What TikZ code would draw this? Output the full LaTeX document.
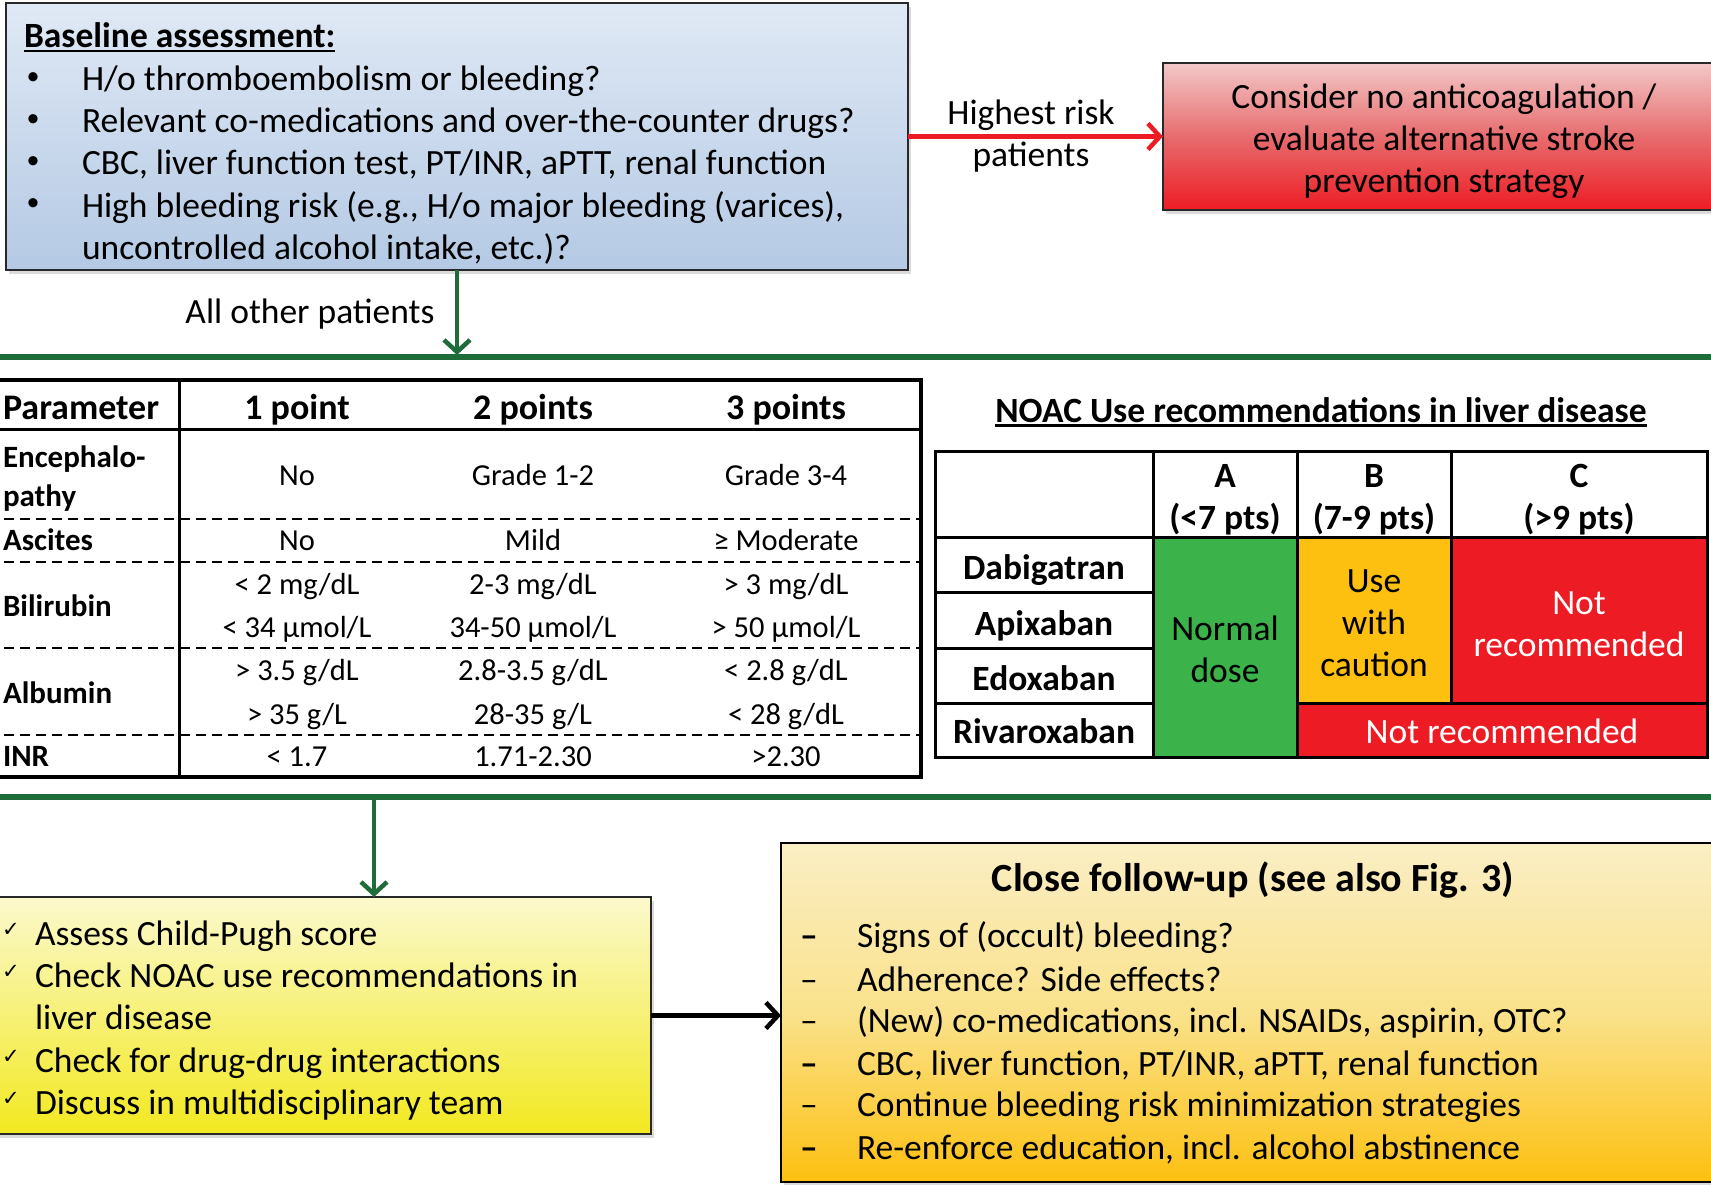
\documentclass[tikz,border=0pt]{standalone}
\usepackage{fontspec}
\setmainfont{Carlito}
\newfontfamily\dejavu{DejaVu Sans}
\usetikzlibrary{arrows.meta,shadows,calc}
\definecolor{bluetop}{RGB}{224,233,245}
\definecolor{bluebot}{RGB}{180,201,228}
\definecolor{redtop}{RGB}{243,200,200}
\definecolor{redmid}{RGB}{231,108,110}
\definecolor{redbot}{RGB}{237,28,36}
\definecolor{dkgreen}{RGB}{30,108,58}
\definecolor{cellgreen}{RGB}{59,179,74}
\definecolor{cellyellow}{RGB}{253,192,16}
\definecolor{cellred}{RGB}{237,28,36}
\definecolor{yeltop}{RGB}{251,249,205}
\definecolor{yelbot}{RGB}{242,233,32}
\definecolor{orgtop}{RGB}{250,238,196}
\definecolor{orgmid}{RGB}{250,226,140}
\definecolor{orgbot}{RGB}{253,192,16}
\definecolor{boxborder}{RGB}{40,40,40}
\begin{document}
\begin{tikzpicture}[x=1pt,y=-1pt,
  every node/.style={inner sep=0pt, outer sep=0pt},
  f35/.style={font=\fontsize{35.5}{42}\selectfont},
  f35b/.style={font=\fontsize{35.5}{42}\selectfont\bfseries},
  f36b/.style={font=\fontsize{36}{42}\selectfont\bfseries},
  f31b/.style={font=\fontsize{31}{44}\selectfont\bfseries},
  f30/.style={font=\fontsize{30.5}{43}\selectfont},
  f40b/.style={font=\fontsize{40}{48}\selectfont\bfseries},
  one/.style={text height=25pt, text depth=0pt},
  one30/.style={text height=19pt, text depth=0pt},
  boxshadow/.style={drop shadow={opacity=0.28, shadow xshift=3pt, shadow yshift=-4pt}},
  bigbox/.style={draw=boxborder, line width=1.8pt, boxshadow},
  gline/.style={draw=dkgreen, line width=6pt},
  tipstyle/.style={-{Straight Barb[length=12pt,width=26pt]}},
  garrow/.style={draw=dkgreen, line width=4.5pt, tipstyle},
  rarrow/.style={draw=cellred, line width=4.5pt, tipstyle},
  barrow/.style={draw=black, line width=4.5pt, tipstyle},
  tcell/.style={draw=black, line width=3pt},
  ctext/.style={align=center},
  dline/.style={draw=black, line width=2pt, dash pattern=on 10pt off 6pt},
  chk/.style={font=\dejavu\fontsize{21}{24}\selectfont},
  bul/.style={font=\fontsize{26}{30}\selectfont},
]
\clip (0,0) rectangle (1711,1185);
\fill[white] (0,0) rectangle (1711,1185);

% ---------- baseline box ----------
\node[bigbox, top color=bluetop, bottom color=bluebot, minimum width=902pt, minimum height=267pt] (base) at (457,136.5) {};
\node[f35b, one, anchor=west] (baset) at (24,35) {Baseline assessment:};
\draw[line width=2.5pt] ([yshift=-3.5pt]baset.south west) -- ([yshift=-3.5pt]baset.south east);
\node[bul] (bb1) at (33,79) {•};
\node[bul] (bb2) at (33,121) {•};
\node[bul] (bb3) at (33,163) {•};
\node[bul] (bb4) at (33,205) {•};
\node[f35, one, anchor=west] (bt1) at (82,78) {H/o thromboembolism or bleeding?};
\node[f35, one, anchor=west] (bt2) at (82,120) {Relevant co-medications and over-the-counter drugs?};
\node[f35, one, anchor=west] (bt3) at (82,162) {CBC, liver function test, PT/INR, aPTT, renal function};
\node[f35, one, anchor=west] (bt4) at (82,205) {High bleeding risk (e.g., H/o major bleeding (varices),};
\node[f35, one, anchor=west] (bt5) at (82,247) {uncontrolled alcohol intake, etc.)?};

% ---------- highest risk ----------
\node[bigbox, top color=redtop, bottom color=redbot, middle color=redmid, minimum width=562pt, minimum height=147pt] (risk) at (1444,136.5) {};
\node[f35, ctext] (riskt) at (1444,141) {Consider no anticoagulation /\\evaluate alternative stroke\\prevention strategy};
\draw[rarrow] (base.east) -- (risk.west);
\node[f35, ctext] (hr) at (1031,136.5) {Highest risk\\patients};

% ---------- green line 1 ----------
\coordinate (g1a) at (0,357);
\coordinate (g1b) at (1711,357);
\draw[gline] (g1a) -- (g1b);
\draw[garrow, shorten >=2pt] (base.south) -- (base.south |- g1a);
\node[f35, one] (aop) at (310,311) {All other patients};

% ---------- Child-Pugh table ----------
\node[draw=black, line width=4pt, minimum width=981pt, minimum height=397pt] (cp) at (430.5,578.5) {};
\draw[line width=3pt] (179,380) -- (179,777);
\draw[line width=3pt] (-60,429) -- (921,429);
\draw[dline] (-60,519) -- (921,519);
\draw[dline] (-60,562) -- (921,562);
\draw[dline] (-60,648) -- (921,648);
\draw[dline] (-60,735) -- (921,735);

\node[f36b, one, anchor=west] (hpar) at (3,407) {Parameter};
\node[f36b, one] (h1) at (297,407) {1 point};
\node[f36b, one] (h2) at (533,407) {2 points};
\node[f36b, one] (h3) at (786,407) {3 points};

\node[f31b, one30, anchor=west] (lenc1) at (3,458) {Encephalo-};
\node[f31b, one30, anchor=west] (lenc2) at (3,496.5) {pathy};
\node[f31b, one30, anchor=west] (lasc) at (3,541) {Ascites};
\node[f31b, one30, anchor=west] (lbil) at (3,607) {Bilirubin};
\node[f31b, one30, anchor=west] (lalb) at (3,694) {Albumin};
\node[f31b, one30, anchor=west] (linr) at (3,757) {INR};

\node[f30, one30] (v11) at (297,476) {No};
\node[f30, one30] (v12) at (533,476) {Grade 1-2};
\node[f30, one30] (v13) at (786,476) {Grade 3-4};
\node[f30, one30] (v21) at (297,541) {No};
\node[f30, one30] (v22) at (533,541) {Mild};
\node[f30, one30] (v23) at (786,541) {≥ Moderate};
\node[f30, one30] (v31) at (297,585) {< 2 mg/dL};
\node[f30, one30] (v32) at (533,585) {2-3 mg/dL};
\node[f30, one30] (v33) at (786,585) {> 3 mg/dL};
\node[f30, one30] (v34) at (297,628) {< 34 µmol/L};
\node[f30, one30] (v35) at (533,628) {34-50 µmol/L};
\node[f30, one30] (v36) at (786,628) {> 50 µmol/L};
\node[f30, one30] (v41) at (297,671) {> 3.5 g/dL};
\node[f30, one30] (v42) at (533,671) {2.8-3.5 g/dL};
\node[f30, one30] (v43) at (786,671) {< 2.8 g/dL};
\node[f30, one30] (v44) at (297,715) {> 35 g/L};
\node[f30, one30] (v45) at (533,715) {28-35 g/L};
\node[f30, one30] (v46) at (786,715) {< 28 g/dL};
\node[f30, one30] (v51) at (297,757) {< 1.7};
\node[f30, one30] (v52) at (533,757) {1.71-2.30};
\node[f30, one30] (v53) at (786,757) {>2.30};

% ---------- NOAC table ----------
\node[f35b, one] (noact) at (1321,410) {NOAC Use recommendations in liver disease};
\draw[line width=2.5pt] ([yshift=-3pt]noact.south west) -- ([yshift=-3pt]noact.south east);

\node[tcell, fill=white, minimum width=218pt, minimum height=86pt] (nh0) at (1044,494) {};
\node[tcell, fill=white, minimum width=144pt, minimum height=86pt] (nhA) at (1225,494) {};
\node[tcell, fill=white, minimum width=154pt, minimum height=86pt] (nhB) at (1374,494) {};
\node[tcell, fill=white, minimum width=256pt, minimum height=86pt] (nhC) at (1579,494) {};
\node[tcell, fill=white, minimum width=218pt, minimum height=55pt] (nd1) at (1044,564.5) {};
\node[tcell, fill=white, minimum width=218pt, minimum height=56pt] (nd2) at (1044,620) {};
\node[tcell, fill=white, minimum width=218pt, minimum height=55pt] (nd3) at (1044,675.5) {};
\node[tcell, fill=white, minimum width=218pt, minimum height=54pt] (nd4) at (1044,730) {};
\node[tcell, fill=cellgreen, minimum width=144pt, minimum height=220pt] (ngA) at (1225,647) {};
\node[tcell, fill=cellyellow, minimum width=154pt, minimum height=166pt] (nyB) at (1374,620) {};
\node[tcell, fill=cellred, minimum width=256pt, minimum height=166pt] (nrC) at (1579,620) {};
\node[tcell, fill=cellred, minimum width=410pt, minimum height=54pt] (nr4) at (1502,730) {};

\node[f35b, ctext] (nhAt) at ([yshift=-6pt]nhA.center) {A\\(<7 pts)};
\node[f35b, ctext] (nhBt) at ([yshift=-6pt]nhB.center) {B\\(7-9 pts)};
\node[f35b, ctext] (nhCt) at ([yshift=-6pt]nhC.center) {C\\(>9 pts)};
\node[f35b, one] (nd1t) at ([yshift=-2.5pt]nd1.center) {Dabigatran};
\node[f35b, one] (nd2t) at ([yshift=-2.5pt]nd2.center) {Apixaban};
\node[f35b, one] (nd3t) at ([yshift=-2pt]nd3.center) {Edoxaban};
\node[f35b, one] (nd4t) at ([yshift=-1pt]nd4.center) {Rivaroxaban};
\node[f35, ctext] (ngAt) at ([yshift=-2pt]ngA.center) {Normal\\dose};
\node[f35, ctext] (nyBt) at ([yshift=-3pt]nyB.center) {Use\\with\\caution};
\node[f35, ctext, text=white] (nrCt) at ([yshift=-4pt]nrC.center) {Not\\recommended};
\node[f35, one, text=white] (nr4t) at ([yshift=-1pt]nr4.center) {Not recommended};

% ---------- green line 2 ----------
\coordinate (g2a) at (0,797);
\coordinate (g2b) at (1711,797);
\draw[gline] (g2a) -- (g2b);
\coordinate (g2x) at (374,797);

% ---------- to-do box ----------
\node[bigbox, top color=yeltop, bottom color=yelbot, minimum width=691pt, minimum height=237pt] (todo) at (305.5,1015.5) {};
\draw[garrow] (g2x) -- (g2x |- todo.north);
\node[chk, anchor=west] (ck1) at (2,930) {✓};
\node[chk, anchor=west] (ck2) at (2,972) {✓};
\node[chk, anchor=west] (ck3) at (2,1057) {✓};
\node[chk, anchor=west] (ck4) at (2,1099) {✓};
\node[f35, one, anchor=west] (tt1) at (35,933) {Assess Child-Pugh score};
\node[f35, one, anchor=west] (tt2) at (35,975) {Check NOAC use recommendations in};
\node[f35, one, anchor=west] (tt3) at (35,1017) {liver disease};
\node[f35, one, anchor=west] (tt4) at (35,1060) {Check for drug-drug interactions};
\node[f35, one, anchor=west] (tt5) at (35,1102) {Discuss in multidisciplinary team};

% ---------- follow-up box ----------
\node[bigbox, draw=black, top color=orgtop, bottom color=orgbot, middle color=orgmid, minimum width=944pt, minimum height=339pt] (fu) at (1253,1012.5) {};
\draw[barrow] (todo.east) -- (todo.east -| fu.west);
\node[f40b, one] (fut) at (1253,879) {Close follow-up (see also Fig. 3)};
\node[f35b, one] (fd1) at (809,935) {–};
\node[f35, one] (fd2) at (809,979) {–};
\node[f35, one] (fd3) at (809,1020) {–};
\node[f35b, one] (fd4) at (809,1063) {–};
\node[f35, one] (fd5) at (809,1104) {–};
\node[f35b, one] (fd6) at (809,1147) {–};
\node[f35, one, anchor=west] (ft1) at (857,935) {Signs of (occult) bleeding?};
\node[f35, one, anchor=west] (ft2) at (857,979) {Adherence? Side effects?};
\node[f35, one, anchor=west] (ft3) at (857,1020) {(New) co-medications, incl. NSAIDs, aspirin, OTC?};
\node[f35, one, anchor=west] (ft4) at (857,1063) {CBC, liver function, PT/INR, aPTT, renal function};
\node[f35, one, anchor=west] (ft5) at (857,1104) {Continue bleeding risk minimization strategies};
\node[f35, one, anchor=west] (ft6) at (857,1147) {Re-enforce education, incl. alcohol abstinence};
\end{tikzpicture}
\end{document}
